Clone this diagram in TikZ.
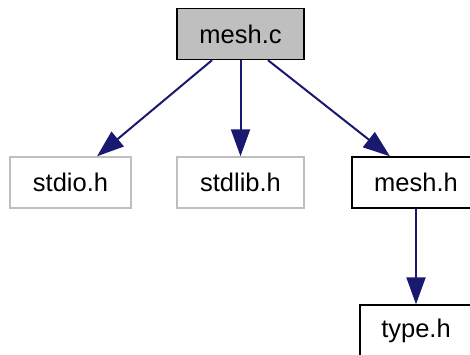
\documentclass[tikz,border=0pt]{standalone}
\usepackage{fontspec}
\setmainfont{Liberation Sans}
\usetikzlibrary{arrows.meta}
\definecolor{edgeblue}{HTML}{191970}
\definecolor{lgrey}{HTML}{BFBFBF}
\tikzset{
  box/.style={draw=black, line width=1.4pt, minimum height=51pt, inner sep=0pt,
    font=\fontsize{25.5}{30}\selectfont, text=black},
  greybox/.style={box, draw=lgrey},
  arr/.style={draw=edgeblue, line width=2pt, -{Triangle[length=27pt,width=19pt]}, fill=edgeblue}
}
\begin{document}
\begin{tikzpicture}[x=1pt,y=-1pt]
\useasboundingbox (0,0) rectangle (470,354);
\clip (0,0) rectangle (470,354);
\fill[white] (0,0) rectangle (470,354);
\node[box, fill=lgrey, minimum width=127pt] (meshc) at (240.5,34) {mesh.c};
\node[greybox, minimum width=121pt] (stdio) at (70.5,182.5) {stdio.h};
\node[greybox, minimum width=127pt] (stdlib) at (240.5,182.5) {stdlib.h};
\node[box, minimum width=128pt] (meshh) at (416,182.5) {mesh.h};
\node[box, minimum width=112pt] (typeh) at (416,330.5) {type.h};
\draw[arr] ([xshift=-28.5pt]meshc.south) -- ([xshift=26.5pt]stdio.north);
\draw[arr] (meshc.south) -- (stdlib.north);
\draw[arr] ([xshift=27.5pt]meshc.south) -- ([xshift=-26pt]meshh.north);
\draw[arr] (meshh.south) -- (typeh.north);
\end{tikzpicture}
\end{document}
